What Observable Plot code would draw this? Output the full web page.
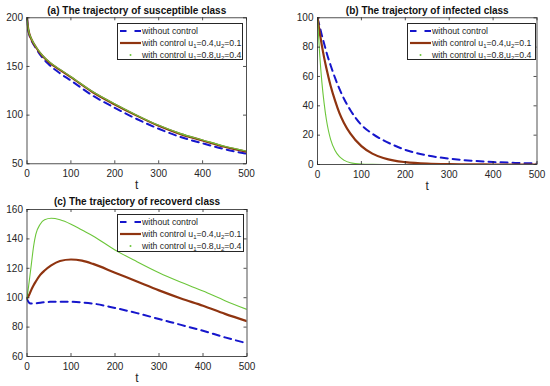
<!DOCTYPE html>
<html><head><meta charset="utf-8">
<script src="https://cdn.jsdelivr.net/npm/d3@7"></script>
<script src="https://cdn.jsdelivr.net/npm/@observablehq/plot@0.6"></script>
<style>
html,body{margin:0;padding:0;background:#fff;}
#root{position:relative;width:550px;height:386px;overflow:hidden;font-family:"Liberation Sans",Arial,sans-serif;background:#fff;}
.panel{position:absolute;}
.legend{position:absolute;border:1px solid #262626;background:#fff;font-size:8.7px;color:#262626;box-sizing:border-box;padding:1.5px 0 0 0;}
.legend .row{display:flex;align-items:center;height:11.8px;white-space:nowrap;}
.legend svg{flex:none;margin:0 1px 0 2px;}
.legend sub{font-size:6px;vertical-align:-2px;line-height:0;}
</style></head><body><div id="root"></div>
<script>
// ---------- data ----------
const xTicks = [0, 100, 200, 300, 400, 500];

// (a) susceptible
const tA = [0, 2, 5, 10, 20, 35, 50, 75, 100, 150, 200, 250, 300, 350, 400, 450, 500];
const sNone = [200, 190, 183, 177, 169, 159, 152, 143, 135.5, 120, 107.5, 96, 86, 77.5, 71, 65, 60.3];
const sLow  = [200, 191, 184, 178, 170, 161, 154.5, 146.5, 139, 123.5, 111, 99.5, 89, 80.5, 74, 67.5, 62.5];
const sHigh = [200, 191.5, 184.5, 178.5, 170.5, 161.5, 155, 147, 139.5, 124, 111.5, 100, 89.5, 81, 74.5, 68, 63];
const yTicksA = [50, 100, 150, 200];

// (b) infected
const tB = [0, 5, 10, 15, 20, 25, 30, 40, 50, 60, 75, 100, 125, 150, 175, 200, 250, 300, 350, 400, 450, 500];
const iNone = [100, 94, 88, 82.5, 77, 72, 67.5, 59, 51.5, 45, 37, 27, 21, 16.5, 13, 10, 6.2, 4, 2.6, 1.7, 1.1, 0.7];
const iLow  = [100, 90, 81, 73, 66, 59.5, 53.5, 43.5, 35, 28.5, 21, 12.5, 7.4, 4.4, 2.6, 1.6, 0.55, 0.2, 0.1, 0, 0, 0];
const iHigh = [100, 75, 56, 42, 31, 23, 17, 9.5, 5.3, 3, 1.2, 0.3, 0.1, 0, 0, 0, 0, 0, 0, 0, 0, 0];
const yTicksB = [0, 20, 40, 60, 80, 100];

// (c) recovered
const tC = [0, 5, 10, 15, 20, 30, 40, 55, 75, 100, 125, 150, 200, 250, 300, 350, 400, 450, 500];
const rNone = [99, 96.5, 96, 96, 96.2, 96.6, 97, 97.2, 97.3, 97.2, 96.8, 96, 93, 89.5, 85.5, 81.5, 77.5, 73, 69];
const rLow  = [99.5, 102, 105.5, 108.5, 111, 115.5, 118.5, 122, 125, 126, 125.2, 123, 117, 111, 105, 99.5, 94.5, 89, 84];
const rHigh = [99.5, 111, 123, 135, 143, 150, 153, 154, 153, 150, 146, 142, 132.5, 124.5, 117, 110.5, 104.5, 98, 92];
const yTicksC = [60, 80, 100, 120, 140, 160];

const titles = [
  "(a) The trajectory of susceptible class",
  "(b) The trajectory of infected class",
  "(c) The trajectory of recoverd class"
];
const xLabel = "t";
const legendLabels = [
  "without control",
  "with control u<sub>1</sub>=0.4,u<sub>2</sub>=0.1",
  "with control u<sub>1</sub>=0.8,u<sub>2</sub>=0.4"
];

// ---------- styles ----------
const BLUE = "#1616cc", BROWN = "#8f3410", GREEN = "#6cc63a", INK = "#262626";
const styles = [
  {stroke: BLUE, strokeWidth: 2, strokeDasharray: "7,5"},
  {stroke: BROWN, strokeWidth: 2.2},
  {stroke: GREEN, strokeWidth: 1.1}
];

const root = document.getElementById("root");

function panel(cfg) {
  const {t, series, yDomain, yTicks, title, left, top, width, height, ml, mr, mt, mb, legend} = cfg;
  const innerW = width - ml - mr, innerH = height - mt - mb;
  const datasets = series.map(vals => vals.map((v, i) => ({t: t[i], v})));
  const chart = Plot.plot({
    width, height,
    marginLeft: ml, marginRight: mr, marginTop: mt, marginBottom: mb,
    style: {fontFamily: "'Liberation Sans', Arial, sans-serif", fontSize: "10px", color: INK, background: "transparent", overflow: "visible"},
    x: {domain: [0, 500]},
    y: {domain: yDomain},
    marks: [
      Plot.axisX({ticks: xTicks, tickSize: 0, tickPadding: 6, label: null, fontSize: 10}),
      Plot.axisY({ticks: yTicks, tickSize: 0, tickPadding: 4, label: null, fontSize: 10}),
      ...datasets.map((d, k) => Plot.line(d, {x: "t", y: "v", curve: "monotone-x", clip: true, ...styles[k]})),
      Plot.frame({stroke: INK, strokeWidth: 0.8}),
      Plot.tickX(xTicks, {x: d => d, insetBottom: innerH - 3, stroke: INK, strokeWidth: 0.8}),
      Plot.tickX(xTicks, {x: d => d, insetTop: innerH - 3, stroke: INK, strokeWidth: 0.8}),
      Plot.tickY(yTicks, {y: d => d, insetRight: innerW - 3, stroke: INK, strokeWidth: 0.8}),
      Plot.tickY(yTicks, {y: d => d, insetLeft: innerW - 3, stroke: INK, strokeWidth: 0.8}),
      Plot.text([title], {frameAnchor: "top", lineAnchor: "middle", dy: -7.3, fontWeight: "bold", fontSize: 10, fill: "#111"}),
      Plot.text([xLabel], {frameAnchor: "bottom", lineAnchor: "middle", dy: 21.8, fontSize: 12, fill: INK})
    ]
  });
  const wrap = document.createElement("div");
  wrap.className = "panel";
  wrap.style.left = left + "px";
  wrap.style.top = top + "px";
  wrap.appendChild(chart);
  root.appendChild(wrap);

  // legend
  const lg = document.createElement("div");
  lg.className = "legend";
  lg.style.left = legend.x + "px";
  lg.style.top = legend.y + "px";
  lg.style.width = legend.w + "px";
  lg.style.height = legend.h + "px";
  legendLabels.forEach((lab, k) => {
    const row = document.createElement("div");
    row.className = "row";
    let sw;
    if (k === 0) sw = `<line x1="0" y1="4" x2="21" y2="4" stroke="${BLUE}" stroke-width="2" stroke-dasharray="6.5,8"/>`;
    else if (k === 1) sw = `<line x1="0" y1="4" x2="21" y2="4" stroke="${BROWN}" stroke-width="2.2"/>`;
    else sw = `<circle cx="10.5" cy="4" r="1" fill="${GREEN}"/>`;
    row.innerHTML = `<svg width="21" height="8">${sw}</svg><span>${lab}</span>`;
    lg.appendChild(row);
  });
  root.appendChild(lg);
}

panel({t: tA, series: [sNone, sLow, sHigh], yDomain: [50, 200], yTicks: yTicksA, title: titles[0],
  left: 0, top: 0, width: 275, height: 192, ml: 26.5, mr: 29, mt: 17.3, mb: 28.7,
  legend: {x: 117, y: 23, w: 126, h: 37}});
panel({t: tB, series: [iNone, iLow, iHigh], yDomain: [0, 100], yTicks: yTicksB, title: titles[1],
  left: 275, top: 0, width: 275, height: 192, ml: 42, mr: 13.5, mt: 17.3, mb: 28,
  legend: {x: 407, y: 23, w: 129, h: 37}});
panel({t: tC, series: [rNone, rLow, rHigh], yDomain: [60, 160], yTicks: yTicksC, title: titles[2],
  left: 0, top: 192, width: 275, height: 194, ml: 26.5, mr: 28.5, mt: 17, mb: 30,
  legend: {x: 117, y: 214, w: 127, h: 38}});
</script></body></html>
